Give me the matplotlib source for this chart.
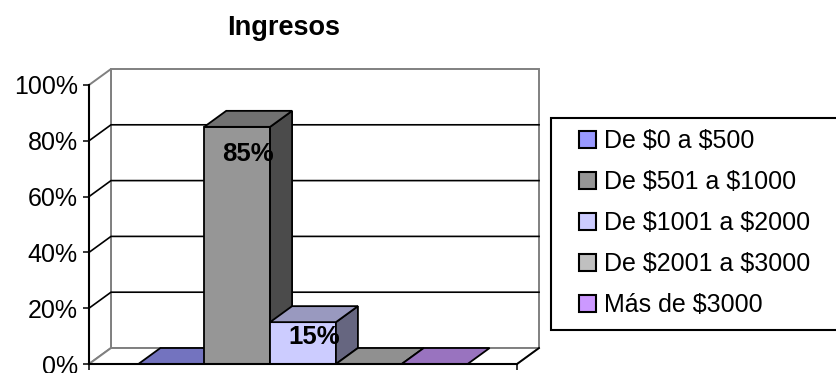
import matplotlib.pyplot as plt
from matplotlib.patches import Polygon, Rectangle, Patch
from matplotlib.ticker import PercentFormatter
from matplotlib.colors import to_rgb

plt.rcParams['font.family'] = ['Liberation Sans', 'DejaVu Sans']
plt.rcParams['text.parse_math'] = False

titulo = 'Ingresos'
rangos = ['De $0 a $500', 'De $501 a $1000', 'De $1001 a $2000',
          'De $2001 a $3000', 'Más de $3000']
porcentajes = [0, 85, 15, 0, 0]
colores = ['#9999FF', '#969696', '#CCCCFF', '#C0C0C0', '#CC99FF']

W, H = 837, 373
fig = plt.figure(figsize=(W / 100, H / 100), dpi=100)
ax = fig.add_axes([89 / W, 9 / H, 428 / W, 279 / H])
XMAX = 6.5
ax.set_xlim(0, XMAX)
ax.set_ylim(0, 100)
ax.patch.set_visible(False)

# depth of the 3D box (pixels) in data units
bb = ax.get_window_extent()
dx = 22 / (bb.width / XMAX)
dy = 16 / (bb.height / 100)

gris = '#808080'


def poly(pts, fc, ec, lw=1.1, z=0):
    ax.add_patch(Polygon(pts, closed=True, facecolor=fc, edgecolor=ec,
                         linewidth=lw, clip_on=False, zorder=z,
                         joinstyle='miter'))


def shade(c, f):
    return tuple(v * f for v in to_rgb(c))


# walls and floor
poly([(dx, dy), (XMAX + dx, dy), (XMAX + dx, 100 + dy), (dx, 100 + dy)], 'white', gris, 1.4)
poly([(0, 0), (dx, dy), (dx, 100 + dy), (0, 100)], 'white', gris, 1.4)
poly([(0, 0), (XMAX, 0), (XMAX + dx, dy), (dx, dy)], 'white', gris, 1.4)
ax.plot([XMAX, XMAX + dx], [0, dy], color='black', lw=1.3, clip_on=False, zorder=0.6)

# gridlines on the left and back walls
for v in range(20, 100, 20):
    ax.plot([0, dx, XMAX + dx], [v, v + dy, v + dy], color='black',
            lw=1.2, clip_on=False, zorder=0.5)

# 3D bars, one per income range
for i, (v, c) in enumerate(zip(porcentajes, colores)):
    x0 = 0.75 + i
    x1 = x0 + 1
    if v > 0:
        ax.add_patch(Rectangle((x0, 0), 1, v, facecolor=c, edgecolor='black',
                               linewidth=1.3, zorder=2, clip_on=False))
        poly([(x1, 0), (x1 + dx, dy), (x1 + dx, v + dy), (x1, v)],
             shade(c, 0.5), 'black', 1.3, 2)
    poly([(x0, v), (x1, v), (x1 + dx, v + dy), (x0 + dx, v + dy)],
         shade(c, 0.75), 'black', 1.3, 2)

# value labels
label_off = [0, -27, -15, 0, 0]
for i, v in enumerate(porcentajes):
    if v > 0:
        ax.annotate(f'{v}%', (0.75 + i + 0.5 + dx / 2, v),
                    xytext=(0, label_off[i]), textcoords='offset pixels',
                    ha='center', va='center', fontsize=18.5,
                    fontweight='bold', zorder=3, annotation_clip=False)

for s in ['top', 'right']:
    ax.spines[s].set_visible(False)
for s in ['left', 'bottom']:
    ax.spines[s].set_linewidth(1.5)
    ax.spines[s].set_zorder(3)

ax.set_yticks(range(0, 101, 20))
ax.yaxis.set_major_formatter(PercentFormatter(decimals=0))
ax.tick_params(axis='y', direction='out', length=4.5, width=1.1,
               labelsize=18, pad=3.5)
ax.set_xticks([0, XMAX])
ax.tick_params(axis='x', direction='out', length=4.5, width=1.1,
               labelbottom=False)

fig.text(283.5 / W, 1 - 35 / H, titulo, ha='center', va='baseline',
         fontsize=19.5, fontweight='bold')

# legend box and entries
fig.patches.append(Rectangle((551 / W, 1 - 330 / H), 300 / W, 212 / H,
                             transform=fig.transFigure, facecolor='white',
                             edgecolor='black', linewidth=1.5, zorder=0))
handles = [Patch(facecolor=c, edgecolor='black', linewidth=1.5) for c in colores]
fig.legend(handles, rangos, loc='upper left',
           bbox_to_anchor=(579 / W, 1 - 129 / H), frameon=False,
           fontsize=18, borderpad=0, borderaxespad=0,
           handlelength=0.7, handleheight=0.7, handletextpad=0.3,
           labelspacing=0.68)

fig.savefig('out.png', dpi=100)
